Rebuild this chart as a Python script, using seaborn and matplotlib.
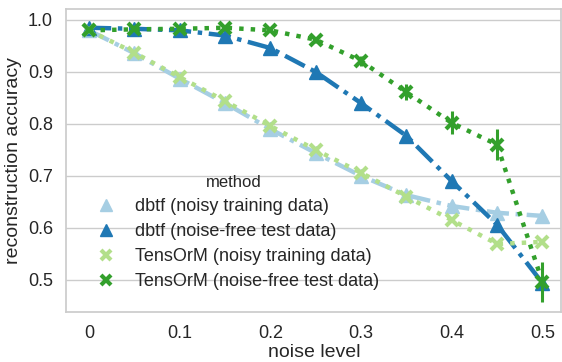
import numpy as np
import pandas as pd
import matplotlib
matplotlib.use("Agg")
import matplotlib.pyplot as plt
import seaborn as sns
from matplotlib.lines import Line2D

noise = [0.0, 0.05, 0.1, 0.15, 0.2, 0.25, 0.3, 0.35, 0.4, 0.45, 0.5]
methods = ["dbtf (noisy training data)", "dbtf (noise-free test data)",
           "TensOrM (noisy training data)", "TensOrM (noise-free test data)"]
dbtf_noisy = [0.980, 0.936, 0.887, 0.840, 0.790, 0.744, 0.700, 0.663, 0.642, 0.629, 0.623]
dbtf_free = [0.985, 0.983, 0.980, 0.970, 0.946, 0.900, 0.840, 0.777, 0.690, 0.606, 0.494]
tensorm_noisy = [0.980, 0.937, 0.890, 0.844, 0.796, 0.750, 0.706, 0.660, 0.615, 0.569, 0.573]
tensorm_free = [0.980, 0.982, 0.983, 0.985, 0.980, 0.962, 0.921, 0.861, 0.802, 0.760, 0.496]
tensorm_free_err = [0.0, 0.0, 0.003, 0.004, 0.004, 0.006, 0.010, 0.015, 0.022, 0.030, 0.038]
x_ticks = [0, 0.1, 0.2, 0.3, 0.4, 0.5]
x_tick_labels = ["0", "0.1", "0.2", "0.3", "0.4", "0.5"]

series = [dbtf_noisy, dbtf_free, tensorm_noisy, tensorm_free]
df = pd.DataFrame({
    "noise level": np.tile(noise, len(methods)),
    "reconstruction accuracy": np.concatenate(series),
    "method": np.repeat(methods, len(noise)),
})

sns.set_theme(style="whitegrid")
plt.rcParams["font.family"] = ["Liberation Sans", "DejaVu Sans"]

palette = dict(zip(methods, ["#a6cee3", "#1f78b4", "#b2df8a", "#33a02c"]))
markers = dict(zip(methods, ["^", "^", "x", "x"]))
msizes = dict(zip(methods, [9.5, 9.5, 8, 8]))
mews = dict(zip(methods, [1, 1, 3, 3]))
dashes = dict(zip(methods, [(5, 1.5, 1, 1.5), (5, 1.5, 1, 1.5), (1, 1.6), (1, 1.6)]))

fig, ax = plt.subplots(figsize=(5.62, 3.62), dpi=100)
for m in methods:
    sub = df[df["method"] == m]
    sns.lineplot(data=sub, x="noise level", y="reconstruction accuracy",
                 color=palette[m], marker=markers[m], dashes=dashes[m],
                 linewidth=3.2, markersize=msizes[m], markeredgecolor=palette[m],
                 markeredgewidth=mews[m], ax=ax, legend=False)

ax.errorbar(noise, tensorm_free, yerr=tensorm_free_err, fmt="none",
            ecolor=palette[methods[3]], elinewidth=2.2, capsize=0)

ax.set_xticks(x_ticks)
ax.set_xticklabels(x_tick_labels)
ax.set_xlim(-0.025, 0.521)
ax.set_ylim(0.438, 1.021)
ax.set_yticks([0.5, 0.6, 0.7, 0.8, 0.9, 1.0])
ax.xaxis.grid(False)
ax.tick_params(labelsize=13)
ax.set_xlabel("noise level", fontsize=14, labelpad=1.5)
ax.set_ylabel("reconstruction accuracy", fontsize=14)

handles = [Line2D([], [], linestyle="none", marker=markers[m], color=palette[m],
                  markeredgecolor=palette[m], markeredgewidth=mews[m],
                  markersize=msizes[m] - 0.5)
           for m in methods]
leg = ax.legend(handles, methods, title="method", loc="lower left",
                frameon=False, fontsize=13, title_fontsize=12,
                borderaxespad=0.8, handletextpad=0.6, labelspacing=0.45)

fig.subplots_adjust(left=0.118, right=0.999, top=0.975, bottom=0.138)
fig.savefig("out.png", dpi=100)
